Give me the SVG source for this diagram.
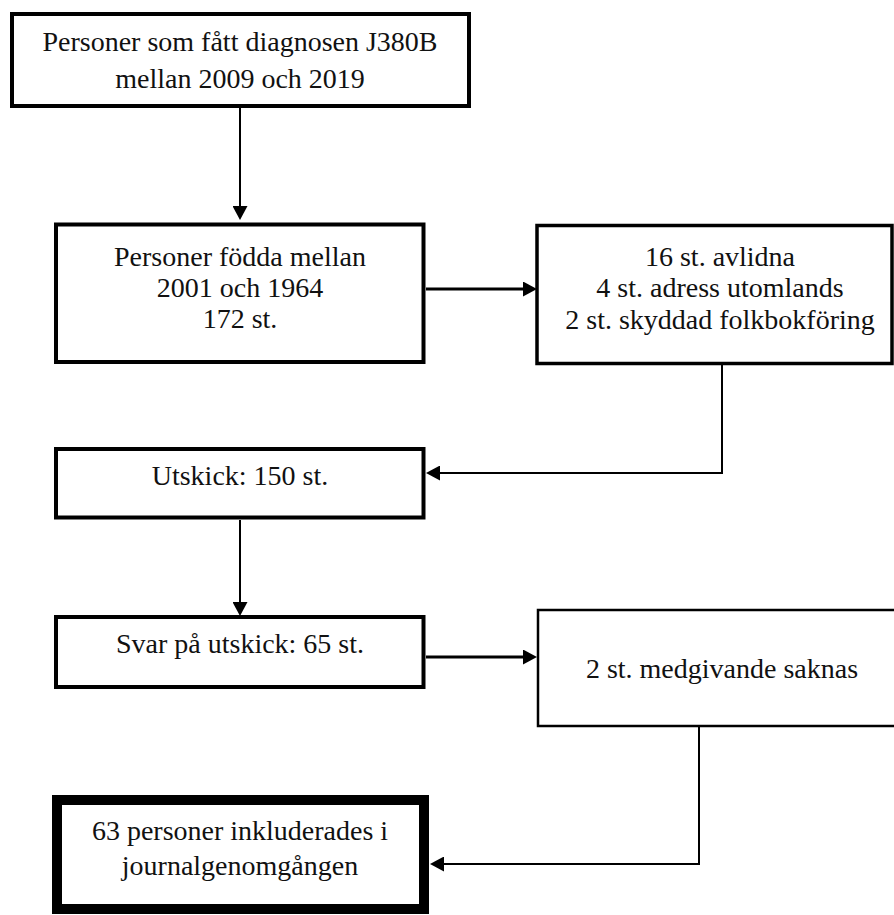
<svg xmlns="http://www.w3.org/2000/svg" width="894" height="915" viewBox="0 0 894 915">
<style>
  .box { fill: #ffffff; stroke: #000000; }
  .t { font-family: 'Liberation Serif', Tinos, 'Times New Roman', Times, 'Noto Serif', 'DejaVu Serif', serif; font-size: 28px; fill: #111111; text-anchor: middle; }
  .c { fill: none; stroke: #000000; }
</style>
<defs>
  <marker id="ah" markerUnits="userSpaceOnUse" viewBox="0 0 14 15" markerWidth="14" markerHeight="15" refX="0" refY="7.5" orient="auto">
    <path d="M0,0 L14,7.5 L0,15 Z" fill="#000000"/>
  </marker>
</defs>
<rect width="894" height="915" fill="#ffffff"/>
<g id="n1">
  <rect class="box" x="12" y="14" width="457" height="92" stroke-width="4"/>
  <text class="t" x="240" y="51">Personer som fått diagnosen J380B</text>
  <text class="t" x="240" y="88">mellan 2009 och 2019</text>
</g>
<g id="n2">
  <rect class="box" x="56" y="224.5" width="367.5" height="137.5" stroke-width="4"/>
  <text class="t" x="240" y="266">Personer födda mellan</text>
  <text class="t" x="240" y="297">2001 och 1964</text>
  <text class="t" x="240" y="328">172 st.</text>
</g>
<g id="n3">
  <rect class="box" x="537" y="225.5" width="355" height="138" stroke-width="3.5"/>
  <text class="t" x="720" y="266">16 st. avlidna</text>
  <text class="t" x="720" y="297">4 st. adress utomlands</text>
  <text class="t" x="720" y="329">2 st. skyddad folkbokföring</text>
</g>
<g id="n4">
  <rect class="box" x="56" y="449" width="367.5" height="68.5" stroke-width="4"/>
  <text class="t" x="240" y="485">Utskick: 150 st.</text>
</g>
<g id="n5">
  <rect class="box" x="56" y="617" width="367.5" height="70" stroke-width="4"/>
  <text class="t" x="240" y="653">Svar på utskick: 65 st.</text>
</g>
<g id="n6">
  <rect class="box" x="538" y="610" width="380" height="116" stroke-width="2.5" stroke="#333333"/>
  <text class="t" x="722" y="678">2 st. medgivande saknas</text>
</g>
<g id="n7">
  <rect class="box" x="57" y="800" width="367" height="109" stroke-width="10"/>
  <text class="t" x="240" y="840">63 personer inkluderades i</text>
  <text class="t" x="240" y="875">journalgenomgången</text>
</g>
<g id="connectors">
  <path class="c" d="M240,108 V206" stroke-width="2" marker-end="url(#ah)"/>
  <path class="c" d="M426,289 H523" stroke-width="3" marker-end="url(#ah)"/>
  <path class="c" d="M722,365 V473 H440" stroke-width="2" stroke="#333333" marker-end="url(#ah)"/>
  <path class="c" d="M240,520 V602" stroke-width="2" marker-end="url(#ah)"/>
  <path class="c" d="M426,657 H523" stroke-width="3" marker-end="url(#ah)"/>
  <path class="c" d="M699,727 V864 H444" stroke-width="2" stroke="#333333" marker-end="url(#ah)"/>
</g>
</svg>
